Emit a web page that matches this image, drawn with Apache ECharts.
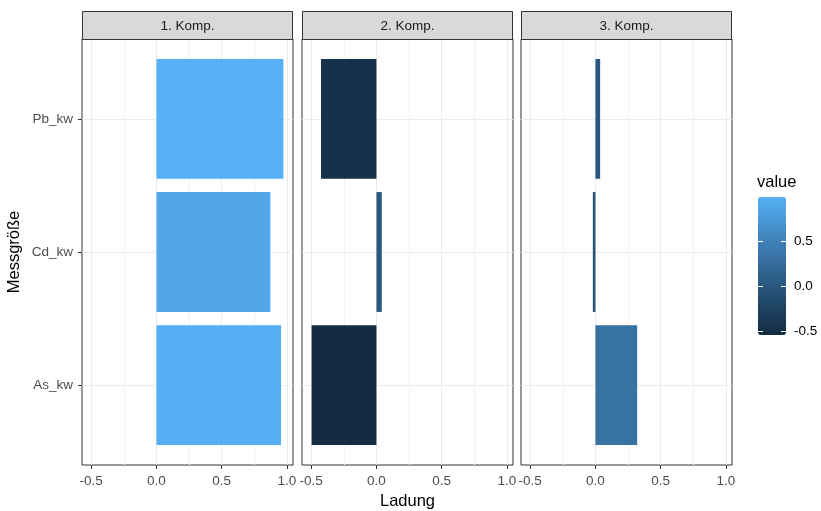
<!DOCTYPE html>
<html>
<head>
<meta charset="utf-8">
<script src="https://cdn.jsdelivr.net/npm/echarts@6/dist/echarts.min.js"></script>
<style>
  html, body { margin: 0; padding: 0; background: #ffffff; }
  #chart { width: 821px; height: 511px; }
</style>
</head>
<body>
<div id="chart"></div>
<script>
// Loadings of the three measured quantities on the first three components
const categories = ['As_kw', 'Cd_kw', 'Pb_kw'];
const panelTitles = ['1. Komp.', '2. Komp.', '3. Komp.'];
const komp1 = [0.955, 0.873, 0.973];
const komp2 = [-0.497, 0.041, -0.425];
const komp3 = [0.32, -0.02, 0.036];
const xTicks = [-0.5, 0, 0.5, 1.0];
const xMinorTicks = [-0.25, 0.25, 0.75];
const legendTicks = [-0.5, 0, 0.5];

const panels = [komp1, komp2, komp3];
const allValues = komp1.concat(komp2, komp3);
const vMin = Math.min.apply(null, allValues);
const vMax = Math.max.apply(null, allValues);
// 5 % padding on the shared value axis, 0.6 bands on the discrete axis
const pad = (vMax - vMin) * 0.05;
const xMin = vMin - pad;
const xMax = vMax + pad;
const catIdx = categories.map((c, i) => i);

const FONT = "'Liberation Sans', Arial, sans-serif";
const SMALL = 13.5;
const TITLE = 16.5;
const panelLeft = [82, 302, 521];
const panelWidth = 211;
const panelTop = 39;
const panelHeight = 426;

const grids = [];
const xAxes = [];
const yAxes = [];
const series = [];
const graphics = [];

panels.forEach((vals, p) => {
  grids.push({
    left: panelLeft[p], top: panelTop, width: panelWidth, height: panelHeight,
    show: true, borderColor: '#333333', borderWidth: 1, backgroundColor: '#ffffff',
    containLabel: false, outerBoundsMode: 'none'
  });
  // major x axis with ticks and labels
  xAxes.push({
    type: 'value', gridIndex: p, min: xMin, max: xMax, position: 'bottom',
    axisLine: { show: false, onZero: false },
    axisTick: { show: true, customValues: xTicks, length: 4, lineStyle: { color: '#333333' } },
    axisLabel: {
      customValues: xTicks, formatter: v => v.toFixed(1),
      color: '#4D4D4D', fontSize: SMALL, fontFamily: FONT, margin: 9
    },
    splitLine: { show: true, lineStyle: { color: '#EBEBEB', width: 1 } },
    name: p === 1 ? 'Ladung' : '', nameLocation: 'middle', nameGap: 27,
    nameTextStyle: { color: '#000000', fontSize: TITLE, fontFamily: FONT }
  });
  yAxes.push({
    type: 'value', gridIndex: p, min: -0.6, max: categories.length - 0.4, position: 'left',
    axisLine: { show: false, onZero: false },
    axisTick: { show: p === 0, customValues: catIdx, length: 4, lineStyle: { color: '#333333' } },
    axisLabel: {
      show: p === 0, customValues: catIdx, formatter: v => categories[Math.round(v)],
      color: '#4D4D4D', fontSize: SMALL, fontFamily: FONT, margin: 9
    },
    splitLine: { show: true, lineStyle: { color: '#EBEBEB', width: 1 } },
    name: p === 0 ? 'Messgröße' : '', nameLocation: 'middle', nameGap: 59,
    nameTextStyle: { color: '#000000', fontSize: TITLE, fontFamily: FONT }
  });
  series.push({
    type: 'custom', xAxisIndex: p, yAxisIndex: p,
    encode: { x: 0, y: 1 },
    data: vals.map((v, i) => [v, i]),
    renderItem: function (params, api) {
      const v = api.value(0);
      const idx = api.value(1);
      const a = api.coord([0, idx]);
      const b = api.coord([v, idx]);
      const h = api.size([0, 0.9])[1];
      return {
        type: 'rect',
        shape: { x: Math.min(a[0], b[0]), y: a[1] - h / 2, width: Math.abs(b[0] - a[0]), height: h },
        style: { fill: api.visual('color') }
      };
    },
    silent: true
  });
  // strip header above each panel
  graphics.push({
    type: 'rect', z: 10,
    shape: { x: panelLeft[p] + 0.5, y: 11.5, width: panelWidth - 1, height: 28 },
    style: { fill: '#D9D9D9', stroke: '#333333', lineWidth: 1 }
  });
  graphics.push({
    type: 'text', z: 11,
    x: panelLeft[p] + panelWidth / 2, y: 26,
    style: {
      text: panelTitles[p], fill: '#1A1A1A', font: SMALL + 'px ' + FONT,
      textAlign: 'center', textVerticalAlign: 'middle'
    }
  });
});

// minor vertical grid lines
panels.forEach((vals, p) => {
  xAxes.push({
    type: 'value', gridIndex: p, min: xMin, max: xMax, position: 'bottom',
    axisLine: { show: false, onZero: false },
    axisTick: { show: false, customValues: xMinorTicks },
    axisLabel: { show: false, customValues: xMinorTicks },
    splitLine: { show: true, lineStyle: { color: '#F2F2F2', width: 1 } }
  });
});

// colour bar scale (ticks over the gradient)
const barLo = -0.544, barHi = 0.993;
grids.push({ left: 758, top: 197, width: 28, height: 138, show: false, outerBoundsMode: 'none' });
xAxes.push({ type: 'value', gridIndex: 3, show: false, min: 0, max: 1 });
yAxes.push({
  type: 'value', gridIndex: 3, min: barLo, max: barHi, position: 'right', z: 10,
  axisLine: { show: false, onZero: false },
  axisTick: { show: true, inside: true, customValues: legendTicks, length: 5, lineStyle: { color: '#ffffff', width: 1 } },
  axisLabel: {
    customValues: legendTicks, formatter: v => v.toFixed(1),
    color: '#000000', fontSize: SMALL, fontFamily: FONT, margin: 8
  },
  splitLine: { show: false }
});
yAxes.push({
  type: 'value', gridIndex: 3, min: barLo, max: barHi, position: 'left', z: 10,
  axisLine: { show: false, onZero: false },
  axisTick: { show: true, inside: true, customValues: legendTicks, length: 5, lineStyle: { color: '#ffffff', width: 1 } },
  axisLabel: { show: false },
  splitLine: { show: false }
});

graphics.push({
  type: 'text', x: 757, y: 182,
  style: { text: 'value', fill: '#000000', font: TITLE + 'px ' + FONT, textAlign: 'left', textVerticalAlign: 'middle' }
});

const chart = echarts.init(document.getElementById('chart'), null, { renderer: 'canvas' });
chart.setOption({
  animation: false,
  backgroundColor: '#ffffff',
  textStyle: { fontFamily: FONT },
  grid: grids,
  xAxis: xAxes,
  yAxis: yAxes,
  visualMap: {
    type: 'continuous', min: vMin, max: vMax, dimension: 0,
    seriesIndex: [0, 1, 2],
    calculable: false, hoverLink: false,
    inRange: { color: ['#132B43', '#234A6C', '#336A98', '#448CC6', '#56B1F7'] },
    itemWidth: 28, itemHeight: 138,
    left: 758, top: 197, padding: 0,
    orient: 'vertical'
  },
  series: series,
  graphic: graphics
});
</script>
</body>
</html>
